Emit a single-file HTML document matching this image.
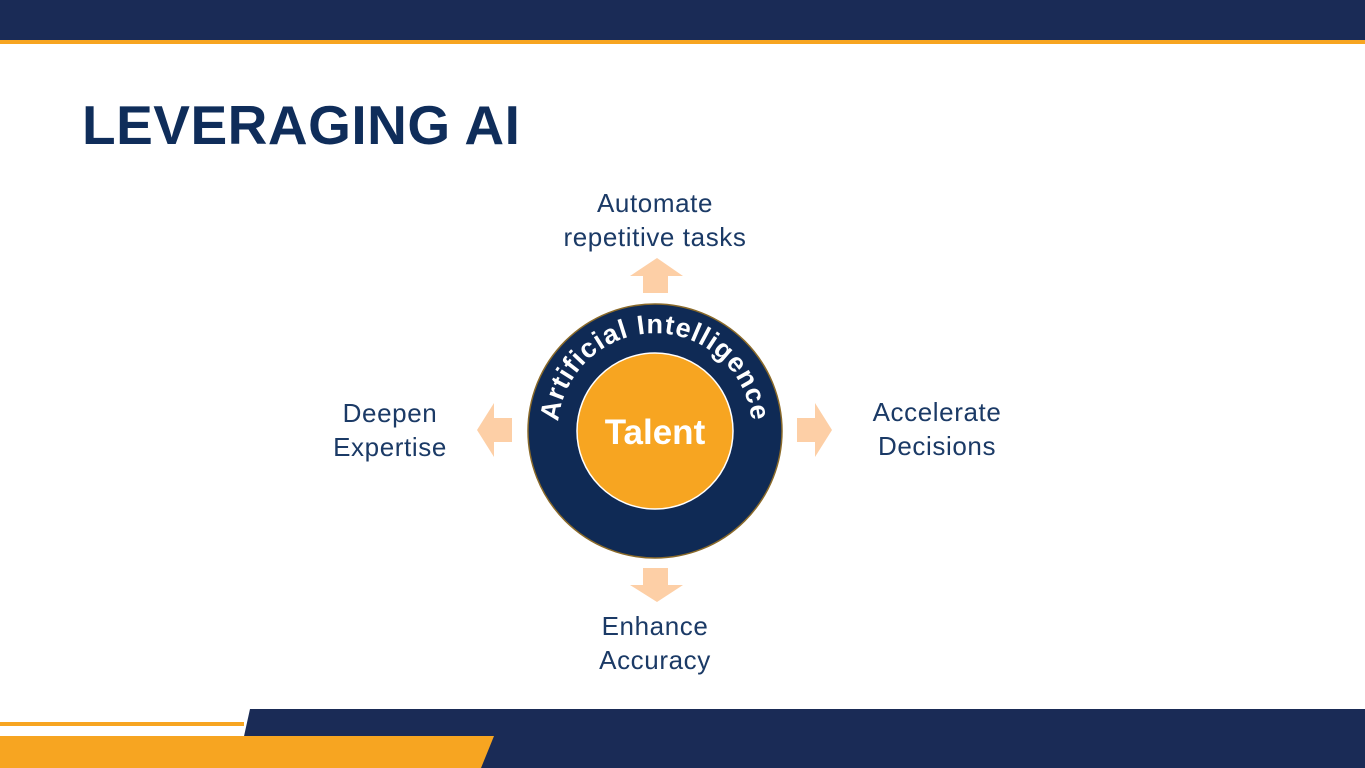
<!DOCTYPE html>
<html><head><style>
body{margin:0;width:1365px;height:768px;position:relative;overflow:hidden;background:#fff;font-family:"Liberation Sans",sans-serif}
.t{position:absolute;color:#1b3a66;font-size:26px;text-align:center;line-height:34px;letter-spacing:0.6px}
</style></head><body>
<div style="position:absolute;left:0;top:0;width:1365px;height:40px;background:#1a2b56"></div>
<div style="position:absolute;left:0;top:40px;width:1365px;height:4px;background:#f7a521"></div>
<div style="position:absolute;left:82px;top:93px;font-size:55px;font-weight:bold;color:#0f2d5a;letter-spacing:0.5px">LEVERAGING AI</div>
<svg style="position:absolute;left:0;top:0" width="1365" height="768">
<rect x="0" y="722" width="244" height="4" fill="#f7a521"/>
<polygon points="250,709 1365,709 1365,768 237,768" fill="#1a2b56"/>
<polygon points="0,736 494,736 481,768 0,768" fill="#f7a521"/>
<g fill="#fdcfa6">
<polygon points="643,293 668,293 668,276 683,276 657,258 630,276 643,276"/>
<polygon points="643,568 668,568 668,585 683,585 657,602 630,585 643,585"/>
<polygon points="797,418 815,418 815,403 832,430 815,457 815,442 797,442"/>
<polygon points="512,418 494,418 494,403 477,430 494,457 494,442 512,442"/>
</g>
<circle cx="655" cy="431" r="127" fill="#0f2a55" stroke="#8a6a2a" stroke-width="1.5"/>
<circle cx="655" cy="431" r="78" fill="#f7a521" stroke="#fff" stroke-width="1.5"/>
<defs><path id="arc" d="M 563 461 A 97 97 0 1 1 747 461"/></defs>
<text font-family="Liberation Sans,sans-serif" font-weight="bold" font-size="27" fill="#fff" letter-spacing="1"><textPath href="#arc" startOffset="50%" text-anchor="middle">Artificial Intelligence</textPath></text>
<text x="655" y="444" font-family="Liberation Sans,sans-serif" font-weight="bold" font-size="35" fill="#fff" text-anchor="middle">Talent</text>
</svg>
<div class="t" style="left:530px;top:186px;width:250px">Automate<br>repetitive tasks</div>
<div class="t" style="left:300px;top:396px;width:180px">Deepen<br>Expertise</div>
<div class="t" style="left:847px;top:395px;width:180px">Accelerate<br>Decisions</div>
<div class="t" style="left:565px;top:609px;width:180px">Enhance<br>Accuracy</div>
</body></html>
